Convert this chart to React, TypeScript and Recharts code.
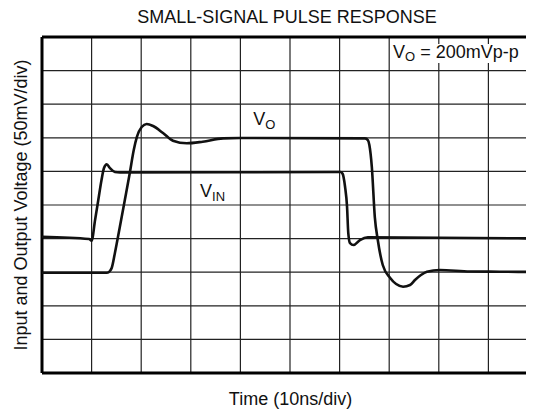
import React from "react";
import { LineChart, Line, XAxis, YAxis, CartesianGrid, ReferenceLine } from "recharts";

// time in ns (10 ns/div), voltage in mV (50 mV/div)
const timeTicks = [0, 10, 20, 30, 40, 50, 60, 70, 80, 90, 100];
const voltTicks = [0, 50, 100, 150, 200, 250, 300, 350, 400, 450, 500];

const vinData = [
  { t: 0, v: 202.8 },
  { t: 9.5, v: 199.4 },
  { t: 10.0, v: 196.9 },
  { t: 10.7, v: 227.7 },
  { t: 11.35, v: 257.4 },
  { t: 12.0, v: 287.2 },
  { t: 12.5, v: 305 },
  { t: 13.05, v: 310.5 },
  { t: 13.7, v: 305 },
  { t: 14.7, v: 299.1 },
  { t: 15.7, v: 298.4 },
  { t: 60.2, v: 299 },
  { t: 60.6, v: 296.5 },
  { t: 61.1, v: 277.2 },
  { t: 61.5, v: 247.5 },
  { t: 61.75, v: 208.3 },
  { t: 62.1, v: 193.4 },
  { t: 62.8, v: 190.5 },
  { t: 64.1, v: 197.9 },
  { t: 65.7, v: 201.9 },
  { t: 100, v: 200.1 },
];

const voData = [
  { t: 0, v: 149.2 },
  { t: 13.1, v: 149.2 },
  { t: 13.7, v: 151.8 },
  { t: 14.05, v: 156.2 },
  { t: 14.7, v: 178.6 },
  { t: 15.7, v: 217.7 },
  { t: 16.7, v: 257.4 },
  { t: 17.7, v: 297.6 },
  { t: 18.5, v: 331.8 },
  { t: 19.15, v: 351.6 },
  { t: 20.1, v: 366 },
  { t: 21.1, v: 370.5 },
  { t: 22.4, v: 367.5 },
  { t: 24.4, v: 357.1 },
  { t: 26.4, v: 345.7 },
  { t: 29.2, v: 341.8 },
  { t: 32.4, v: 344.2 },
  { t: 36.5, v: 349.2 },
  { t: 39.9, v: 349.7 },
  { t: 65.1, v: 349.2 },
  { t: 65.7, v: 346.7 },
  { t: 66.0, v: 339.3 },
  { t: 66.5, v: 306.5 },
  { t: 67.1, v: 232.1 },
  { t: 67.7, v: 197.9 },
  { t: 68.7, v: 160.7 },
  { t: 70.2, v: 141.4 },
  { t: 71.4, v: 132.4 },
  { t: 72.8, v: 128.4 },
  { t: 74.2, v: 130.9 },
  { t: 75.2, v: 138.4 },
  { t: 76.4, v: 145.8 },
  { t: 77.6, v: 150.7 },
  { t: 80.2, v: 153.3 },
  { t: 86.3, v: 151 },
  { t: 92.3, v: 150.7 },
  { t: 100, v: 150.3 },
];

const FONT = "'Liberation Sans', Arial, sans-serif";

export default function App() {
  return (
    <div style={{ position: "relative", width: 526, height: 407, overflow: "hidden", fontFamily: FONT }}>
      <LineChart
        width={530}
        height={407}
        margin={{ top: 29, right: 0, left: 34, bottom: 42 }}
      >
        <XAxis dataKey="t" type="number" domain={[0, 100]} ticks={timeTicks} hide allowDuplicatedCategory={false} />
        <YAxis type="number" domain={[0, 500]} ticks={voltTicks} hide />
        <CartesianGrid stroke="#222" strokeWidth={1.2} horizontalValues={voltTicks} verticalValues={timeTicks} />
        <ReferenceLine y={500} stroke="#000" strokeWidth={3} />
        <ReferenceLine y={0} stroke="#000" strokeWidth={3} />
        <ReferenceLine x={0} stroke="#000" strokeWidth={3} />
        <Line data={vinData} dataKey="v" type="monotone" stroke="#111" strokeWidth={2.6} dot={false} isAnimationActive={false} />
        <Line data={voData} dataKey="v" type="monotone" stroke="#111" strokeWidth={2.6} dot={false} isAnimationActive={false} />
      </LineChart>
      <svg width={526} height={407} style={{ position: "absolute", left: 0, top: 0, pointerEvents: "none" }} fontFamily={FONT}>
        <text x={279} y={15} textAnchor="middle" fontSize={18} fill="#111">SMALL-SIGNAL PULSE RESPONSE</text>
        <text x={282.5} y={397} textAnchor="middle" fontSize={18} fill="#111">Time (10ns/div)</text>
        <text transform="translate(19,197) rotate(-90)" textAnchor="middle" fontSize={18} fill="#111">
          Input and Output Voltage (50mV/div)
        </text>
        <rect x={384} y={36} width={142} height={19} fill="#fff" />
        <text x={385} y={50} fontSize={18} fill="#111">
          V<tspan fontSize={13} dy={3}>O</tspan><tspan dy={-3}> = 200mVp-p</tspan>
        </text>
        <text x={245.3} y={117} fontSize={18} fill="#111">
          V<tspan fontSize={13} dy={4}>O</tspan>
        </text>
        <text x={192} y={188.5} fontSize={18} fill="#111">
          V<tspan fontSize={13} dy={4}>IN</tspan>
        </text>
      </svg>
    </div>
  );
}
